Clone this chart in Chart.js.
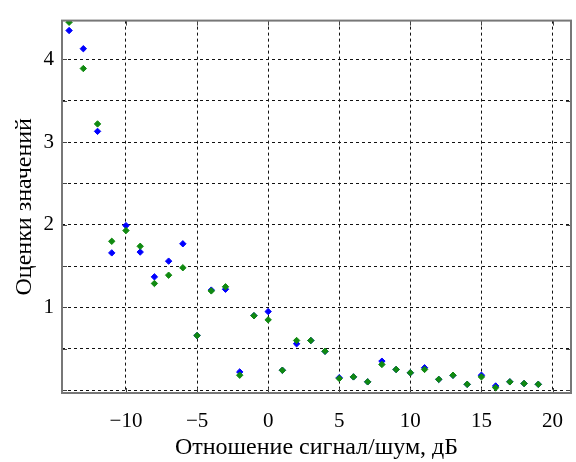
<!DOCTYPE html>
<html>
<head>
<meta charset="utf-8">
<script src="https://cdn.jsdelivr.net/npm/chart.js@4"></script>
<style>
  html, body { margin: 0; padding: 0; background: #fff; }
  #wrap { width: 576px; height: 462px; }
</style>
</head>
<body>
<div id="wrap"><canvas id="ocenki"></canvas></div>
<script>
// отношение сигнал/шум, дБ
const snr = [-14, -13, -12, -11, -10, -9, -8, -7, -6, -5, -4, -3, -2, -1, 0, 1, 2, 3, 4,
  5, 6, 7, 8, 9, 10, 11, 12, 13, 14, 15, 16, 17, 18, 19];
const blue_vals = [4.35, 4.13, 3.13, 1.66, 1.99, 1.67, 1.37, 1.56, 1.77, 0.66, 1.21, 1.22, 0.22, 0.90, 0.95, 0.24, 0.56, 0.60, 0.47,
  0.15, 0.16, 0.10, 0.35, 0.25, 0.21, 0.27, 0.13, 0.18, 0.07, 0.18, 0.05, 0.10, 0.08, 0.07];
const green_vals = [4.45, 3.89, 3.22, 1.80, 1.93, 1.74, 1.29, 1.39, 1.48, 0.66, 1.20, 1.25, 0.18, 0.90, 0.85, 0.24, 0.60, 0.60, 0.47,
  0.14, 0.16, 0.10, 0.31, 0.25, 0.21, 0.25, 0.13, 0.18, 0.07, 0.16, 0.03, 0.10, 0.08, 0.07];
const x_ticks = [-10, -5, 0, 5, 10, 15, 20];
const y_ticks = [0, 0.5, 1, 1.5, 2, 2.5, 3, 3.5, 4];
const y_labels = ['', '', '1', '', '2', '', '3', '', '4'];

const serif = "'Liberation Serif', 'DejaVu Serif', serif";

function pts(ys) {
  return snr.map((x, i) => ({x: x, y: ys[i]}));
}

// рамка и короткие засечки внутрь
const framePlugin = {
  id: 'frame',
  afterDraw(chart) {
    const {ctx, chartArea: a, scales} = chart;
    ctx.save();
    ctx.strokeStyle = '#444';
    ctx.lineWidth = 1;
    ctx.setLineDash([]);
    ctx.beginPath();
    x_ticks.forEach(v => {
      const px = Math.round(scales.x.getPixelForValue(v)) + 0.5;
      ctx.moveTo(px, a.bottom); ctx.lineTo(px, a.bottom - 5);
      ctx.moveTo(px, a.top); ctx.lineTo(px, a.top + 5);
    });
    y_ticks.forEach(v => {
      const py = Math.round(scales.y.getPixelForValue(v)) + 0.5;
      ctx.moveTo(a.left, py); ctx.lineTo(a.left + 5, py);
      ctx.moveTo(a.right, py); ctx.lineTo(a.right - 5, py);
    });
    ctx.stroke();
    ctx.strokeStyle = '#777';
    ctx.lineWidth = 2;
    ctx.strokeRect(a.left, a.top, a.right - a.left, a.bottom - a.top);
    ctx.restore();
  }
};

new Chart(document.getElementById('ocenki'), {
  type: 'scatter',
  data: {
    datasets: [{
      label: 'оценка 1',
      data: pts(blue_vals),
      backgroundColor: '#0000ff',
      borderColor: '#0000ff',
      pointStyle: 'rectRot',
      pointRadius: 3.2,
      borderWidth: 1,
      order: 2
    },
    {
      label: 'оценка 2',
      data: pts(green_vals),
      backgroundColor: '#108a10',
      borderColor: '#108a10',
      pointStyle: 'rectRot',
      pointRadius: 3.2,
      borderWidth: 1,
      order: 1
    }]
  },
  options: {
    responsive: true,
    maintainAspectRatio: false,
    animation: false,
    layout: { padding: { top: 9, right: 2, left: 0, bottom: 0 } },
    plugins: {
      legend: { display: false },
      tooltip: { enabled: false }
    },
    scales: {
      x: {
        type: 'linear',
        min: -14.5,
        max: 21.3,
        afterBuildTicks: s => { s.ticks = x_ticks.map(v => ({value: v})); },
        afterFit: s => { s.height = 69; s.paddingLeft = 0; s.paddingRight = 0; },
        border: { display: false, dash: [3, 3] },
        grid: { color: '#111', lineWidth: 1, drawTicks: false },
        ticks: {
          color: '#000',
          padding: 16,
          font: { family: serif, size: 21 },
          callback: v => (v < 0 ? '\u2212' + Math.abs(v) : '' + v)
        },
        title: {
          display: true,
          text: 'Отношение сигнал/шум, дБ',
          color: '#000',
          padding: { top: 0, bottom: 0 },
          font: { family: serif, size: 24 }
        }
      },
      y: {
        min: -0.035,
        max: 4.47,
        afterBuildTicks: s => { s.ticks = y_ticks.map(v => ({value: v})); },
        afterFit: s => { s.width = 62; },
        border: { display: false, dash: [3, 3] },
        grid: { color: '#111', lineWidth: 1, drawTicks: false },
        ticks: {
          color: '#000',
          padding: 8,
          font: { family: serif, size: 21 },
          callback: (v, i) => y_labels[i]
        },
        title: {
          display: true,
          text: 'Оценки значений',
          color: '#000',
          padding: { top: 10, bottom: 0 },
          font: { family: serif, size: 24 }
        }
      }
    }
  },
  plugins: [framePlugin]
});
</script>
</body>
</html>
